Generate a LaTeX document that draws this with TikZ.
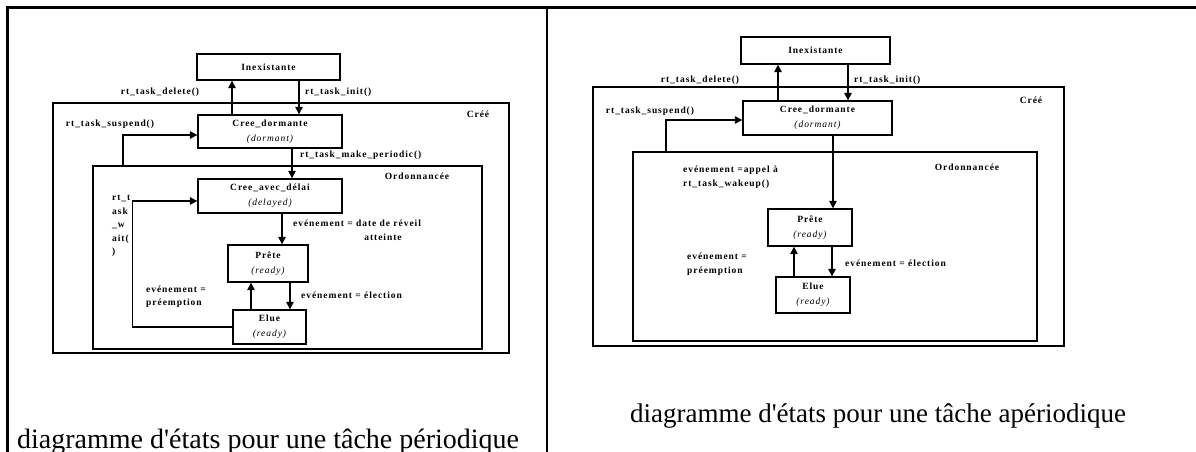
\documentclass[tikz,border=0pt]{standalone}
\usepackage{fontspec}
\newfontfamily\capfont{Liberation Serif}
\newfontfamily\lbl[LetterSpace=10]{Liberation Serif}
\usetikzlibrary{arrows.meta}
\begin{document}
\begin{tikzpicture}[x=1pt,y=-1pt,
  st/.style={draw,line width=1.4pt,inner sep=0pt,align=center,font=\lbl\fontsize{9.5}{15}\selectfont\bfseries},
  frame/.style={draw,line width=1.4pt,inner sep=0pt},
  lab/.style={inner sep=0pt,align=left,font=\lbl\fontsize{9.5}{14}\selectfont\bfseries},
  arr/.style={line width=1.4pt,-{Triangle[length=7.5pt,width=7.5pt]}}]
\clip (0,0) rectangle (1196,452);
% table lines
\draw[line width=3pt] (5.5,8) -- (1196,8);
\draw[line width=3pt] (7,8) -- (7,452);
\draw[line width=2.5pt] (547,8) -- (547,452);

% ---------------- left panel ----------------
\node[frame,minimum width=456pt,minimum height=250pt] (creeL) at (281,228) {};
\node[frame,minimum width=389pt,minimum height=183pt] (ordL) at (287.5,257.5) {};
\node[st,minimum width=143pt,minimum height=26pt] (inexL) at (268.5,67) {Inexistante};
\node[st,minimum width=144pt,minimum height=33pt] (dormL) at (270,131.5) {Cree\_dormante\\{\mdseries\itshape(dormant)}};
\node[st,minimum width=144pt,minimum height=34pt] (delayL) at (270,196) {Cree\_avec\_délai\\{\mdseries\itshape(delayed)}};
\node[st,minimum width=80pt,minimum height=37pt] (preteL) at (268,263.5) {Prête\\{\mdseries\itshape(ready)}};
\node[st,minimum width=73pt,minimum height=34pt] (elueL) at (269.5,327) {Elue\\{\mdseries\itshape(ready)}};

\draw[arr] ([xshift=-38pt]dormL.north) -- ([xshift=-36.5pt]inexL.south);
\draw[arr] ([xshift=30.5pt]inexL.south) -- ([xshift=29pt]dormL.north);
\draw[arr] ([xshift=-164.5pt]ordL.north) |- ([yshift=-3.5pt]dormL.west);
\draw[arr] ([xshift=22pt]dormL.south) -- ([xshift=22pt]delayL.north);
\draw[arr] (elueL.west) -| ([xshift=-65pt,yshift=-5pt]delayL.west) -- ([yshift=-5pt]delayL.west);
\draw[arr] ([xshift=12pt]delayL.south) -- ([xshift=14pt]preteL.north);
\draw[arr] ([xshift=-18.5pt]elueL.north) -- ([xshift=-17pt]preteL.south);
\draw[arr] ([xshift=22pt]preteL.south) -- ([xshift=20.5pt]elueL.north);

\node[lab] (lDel) at (160,92) {rt\_task\_delete()};
\node[lab,anchor=west] (lInit) at (305,92) {rt\_task\_init()};
\node[lab] (lCree) at (478,114) {Créé};
\node[lab] (lSus) at (110,124) {rt\_task\_suspend()};
\node[lab,anchor=west] (lPer) at (300,155) {rt\_task\_make\_periodic()};
\node[lab] (lOrd) at (417,176) {Ordonnancée};
\node[lab,anchor=north west,font=\lbl\fontsize{9.5}{13.6}\selectfont\bfseries] (lWait) at (112,195) {rt\_t\\ask\\\_w\\ait(\\)};
\node[lab,anchor=west] (lDate) at (293,223) {evénement = date de réveil};
\node[lab] (lAtt) at (383,237) {atteinte};
\node[lab,anchor=west] (lEl) at (301,295) {evénement = élection};
\node[lab,anchor=west,font=\lbl\fontsize{9.5}{13}\selectfont\bfseries] (lPre) at (146,296.5) {evénement =\\préemption};
\node[inner sep=0pt,anchor=base west,font=\capfont\fontsize{28}{28}\selectfont] (capL) at (17,448) {diagramme d'états pour une tâche périodique};

% ---------------- right panel ----------------
\node[frame,minimum width=471pt,minimum height=259pt] (creeR) at (828.5,216.5) {};
\node[frame,minimum width=404pt,minimum height=189pt] (ordR) at (835,246.5) {};
\node[st,minimum width=149pt,minimum height=27pt] (inexR) at (815.5,50.5) {Inexistante};
\node[st,minimum width=149pt,minimum height=34pt] (dormR) at (817.5,118) {Cree\_dormante\\{\mdseries\itshape(dormant)}};
\node[st,minimum width=84pt,minimum height=37pt] (preteR) at (810,227.5) {Prête\\{\mdseries\itshape(ready)}};
\node[st,minimum width=74pt,minimum height=36pt] (elueR) at (813,295) {Elue\\{\mdseries\itshape(ready)}};

\draw[arr] ([xshift=-39.5pt]dormR.north) -- ([xshift=-37.5pt]inexR.south);
\draw[arr] ([xshift=32.5pt]inexR.south) -- ([xshift=30.5pt]dormR.north);
\draw[arr] ([xshift=-169pt]ordR.north) |- ([yshift=-2pt]dormR.west);
\draw[arr] ([xshift=15.5pt]dormR.south) -- ([xshift=23pt]preteR.north);
\draw[arr] ([xshift=-19pt]elueR.north) -- ([xshift=-16pt]preteR.south);
\draw[arr] ([xshift=22pt]preteR.south) -- ([xshift=19pt]elueR.north);

\node[lab] (rDel) at (700,80) {rt\_task\_delete()};
\node[lab,anchor=west] (rInit) at (854,80) {rt\_task\_init()};
\node[lab] (rCree) at (1031,100) {Créé};
\node[lab] (rSus) at (650,111) {rt\_task\_suspend()};
\node[lab] (rOrd) at (967,167) {Ordonnancée};
\node[lab,anchor=west] (rApp) at (683,177) {evénement =appel à\\rt\_task\_wakeup()};
\node[lab,anchor=west] (rPre) at (687,264) {evénement =\\préemption};
\node[lab,anchor=west] (rEl) at (845,263) {evénement = élection};
\node[inner sep=0pt,anchor=base,font=\capfont\fontsize{27}{27}\selectfont] (capR) at (878,422) {diagramme d'états pour une tâche apériodique};
\end{tikzpicture}
\end{document}
